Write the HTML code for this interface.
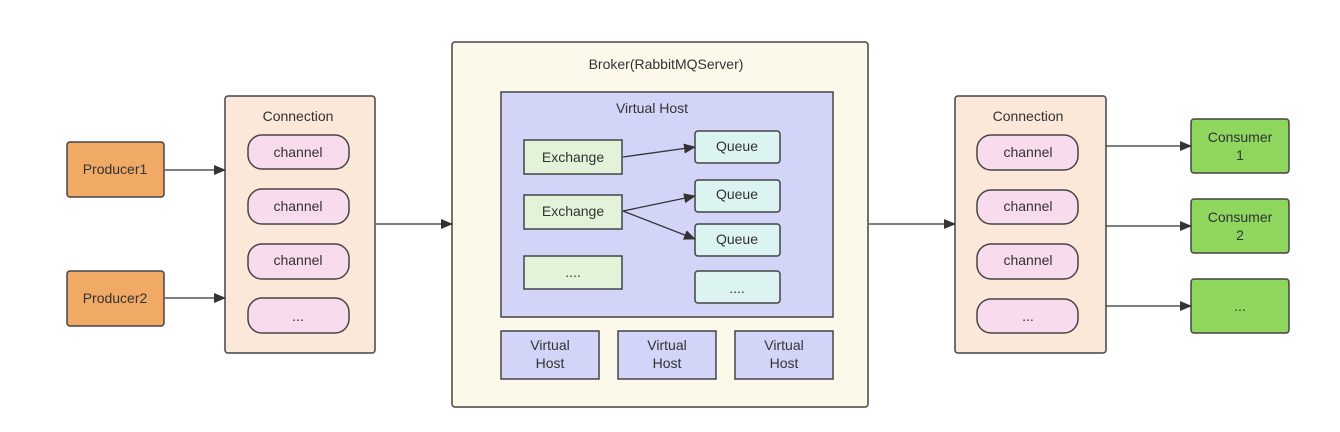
<!DOCTYPE html>
<html><head><meta charset="utf-8"><style>
html,body{margin:0;padding:0;background:#fff;}
svg{display:block;}
text{font-family:"Liberation Sans","DejaVu Sans",sans-serif;font-size:14px;fill:#333;text-anchor:middle;dominant-baseline:central;}
</style></head><body>
<svg width="1340" height="432" viewBox="0 0 1340 432" xmlns="http://www.w3.org/2000/svg">
<defs><marker id="a" markerWidth="12" markerHeight="10" refX="11" refY="5" orient="auto" markerUnits="userSpaceOnUse"><path d="M0,0 L12,5 L0,10 z" fill="#333"/></marker></defs>
<g stroke="#444" stroke-width="1.5">
<!-- producers -->
<rect x="67" y="142" width="97" height="55" rx="3" fill="#f0aa66"/>
<rect x="67" y="271" width="97" height="55" rx="3" fill="#f0aa66"/>
<!-- left connection -->
<rect x="225" y="96" width="150" height="257" rx="3" fill="#fbe8d8"/>
<rect x="248" y="135" width="101" height="34" rx="14" fill="#f8dbec"/>
<rect x="248" y="189" width="101" height="35" rx="14" fill="#f8dbec"/>
<rect x="248" y="244" width="101" height="35" rx="14" fill="#f8dbec"/>
<rect x="248" y="298" width="101" height="35" rx="14" fill="#f8dbec"/>
<!-- broker -->
<rect x="452" y="42" width="416" height="365" rx="3" fill="#fcf8ea"/>
<rect x="501" y="92" width="332" height="225" fill="#d2d5f7"/>
<rect x="524" y="140" width="98" height="34" fill="#e2f3da"/>
<rect x="524" y="195" width="98" height="34" fill="#e2f3da"/>
<rect x="524" y="256" width="98" height="33" fill="#e2f3da"/>
<rect x="695" y="131" width="85" height="32" rx="3" fill="#dbf3f1"/>
<rect x="695" y="180" width="85" height="32" rx="3" fill="#dbf3f1"/>
<rect x="695" y="224" width="85" height="32" rx="3" fill="#dbf3f1"/>
<rect x="695" y="271" width="85" height="32" rx="3" fill="#dbf3f1"/>
<rect x="501" y="331" width="98" height="48" fill="#d2d5f7"/>
<rect x="618" y="331" width="98" height="48" fill="#d2d5f7"/>
<rect x="735" y="331" width="98" height="48" fill="#d2d5f7"/>
<!-- right connection -->
<rect x="955" y="96" width="151" height="257" rx="3" fill="#fbe8d8"/>
<rect x="977" y="135" width="101" height="35" rx="14" fill="#f8dbec"/>
<rect x="977" y="190" width="101" height="34" rx="14" fill="#f8dbec"/>
<rect x="977" y="244" width="101" height="35" rx="14" fill="#f8dbec"/>
<rect x="977" y="299" width="101" height="34" rx="14" fill="#f8dbec"/>
<!-- consumers -->
<rect x="1191" y="119" width="98" height="54" rx="3" fill="#8fd65f"/>
<rect x="1191" y="199" width="98" height="54" rx="3" fill="#8fd65f"/>
<rect x="1191" y="279" width="98" height="54" rx="3" fill="#8fd65f"/>
</g>
<g stroke="#333" stroke-width="1.3" marker-end="url(#a)">
<line x1="165" y1="170" x2="225" y2="170"/>
<line x1="165" y1="298" x2="225" y2="298"/>
<line x1="376" y1="224" x2="452" y2="224"/>
<line x1="623" y1="157" x2="695" y2="147"/>
<line x1="623" y1="211" x2="695" y2="196"/>
<line x1="623" y1="211" x2="695" y2="239"/>
<line x1="869" y1="224" x2="955" y2="224"/>
<line x1="1106" y1="146" x2="1191" y2="146"/>
<line x1="1106" y1="226" x2="1191" y2="226"/>
<line x1="1106" y1="306" x2="1191" y2="306"/>
</g>
<text x="115" y="169">Producer1</text>
<text x="115" y="298">Producer2</text>
<text x="298" y="116">Connection</text>
<text x="298" y="152">channel</text>
<text x="298" y="206">channel</text>
<text x="298" y="260">channel</text>
<text x="298" y="316">...</text>
<text x="666" y="64">Broker(RabbitMQServer)</text>
<text x="652" y="108">Virtual Host</text>
<text x="573" y="157">Exchange</text>
<text x="573" y="211">Exchange</text>
<text x="573" y="272">....</text>
<text x="737" y="146">Queue</text>
<text x="737" y="194">Queue</text>
<text x="737" y="239">Queue</text>
<text x="737" y="288">....</text>
<text x="550" y="345">Virtual</text><text x="550" y="363">Host</text>
<text x="667" y="345">Virtual</text><text x="667" y="363">Host</text>
<text x="784" y="345">Virtual</text><text x="784" y="363">Host</text>
<text x="1028" y="116">Connection</text>
<text x="1028" y="152">channel</text>
<text x="1028" y="206">channel</text>
<text x="1028" y="260">channel</text>
<text x="1028" y="316">...</text>
<text x="1240" y="137">Consumer</text><text x="1240" y="155">1</text>
<text x="1240" y="217">Consumer</text><text x="1240" y="235">2</text>
<text x="1240" y="306">...</text>
</svg>
</body></html>
